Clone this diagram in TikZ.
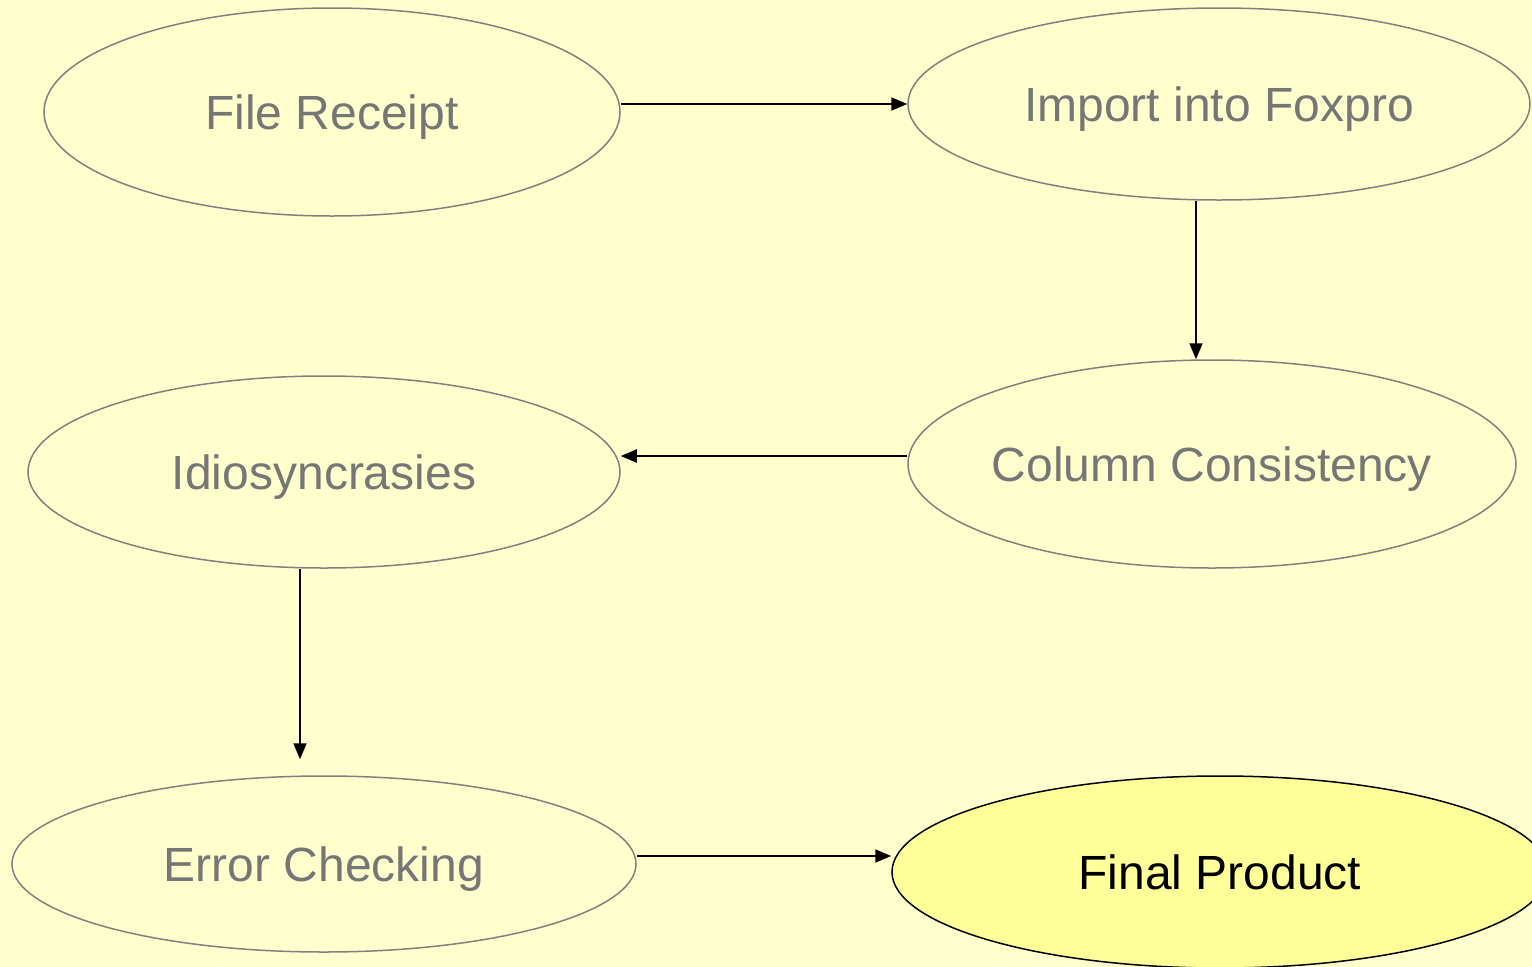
\documentclass[tikz,border=0pt]{standalone}
\usepackage{fontspec}
\setmainfont{Liberation Sans}
\usetikzlibrary{shapes.geometric,arrows.meta}
\definecolor{bgyellow}{RGB}{255,255,206}
\definecolor{finalfill}{RGB}{255,255,153}
\definecolor{rimgray}{RGB}{128,128,128}
\definecolor{textgray}{RGB}{118,118,118}
% label set with no extent, caps centred on the node centre
\newcommand\steplabel[1]{\makebox[0pt]{\raisebox{-0.358em}[0pt][0pt]{#1}}}
\begin{document}
\begin{tikzpicture}[x=0.3pt,y=-0.3pt,
  stage/.style={ellipse,draw=rimgray,line width=0.45pt,fill=bgyellow,
    text=textgray,font=\fontsize{14.4}{17}\selectfont,inner sep=0pt},
  goal/.style={stage,draw=black,fill=finalfill,text=black},
  flow/.style={draw=black,line width=0.6pt,-{Triangle[length=4.8pt,width=3.9pt]}}]
  \fill[bgyellow] (0,0) rectangle (1532,967);
  \useasboundingbox (0,0) rectangle (1532,967);

  \node[stage,minimum width=576*0.3pt,minimum height=208*0.3pt] (fr) at (332,112) {\steplabel{File Receipt}};
  \node[stage,minimum width=622*0.3pt,minimum height=192*0.3pt] (imp) at (1219,104) {\steplabel{Import into Foxpro}};
  \node[stage,minimum width=608*0.3pt,minimum height=208*0.3pt] (col) at (1212,464) {\steplabel{Column Consistency}};
  \node[stage,minimum width=592*0.3pt,minimum height=192*0.3pt] (idio) at (324,472) {\steplabel{Idiosyncrasies}};
  \node[stage,minimum width=624*0.3pt,minimum height=176*0.3pt] (err) at (324,864) {\steplabel{Error Checking}};
  \node[goal,minimum width=656*0.3pt,minimum height=192*0.3pt] (fin) at (1220,872) {\steplabel{Final Product}};

  \draw[flow] (fr.east |- imp.west) -- (imp.west);
  \draw[flow] ([xshift=-23*0.3pt]imp.south) -- ([xshift=-23*0.3pt]imp.south |- col.north);
  \draw[flow] ([yshift=8*0.3pt]col.west) -- ([yshift=8*0.3pt]col.west -| idio.east);
  \draw[flow] ([xshift=-24*0.3pt]idio.south) -- ([xshift=-24*0.3pt,yshift=16*0.3pt]idio.south |- err.north);
  \draw[flow] (err.east) ++(0,-8) coordinate (errout) -- (errout -| fin.west);
\end{tikzpicture}
\end{document}
